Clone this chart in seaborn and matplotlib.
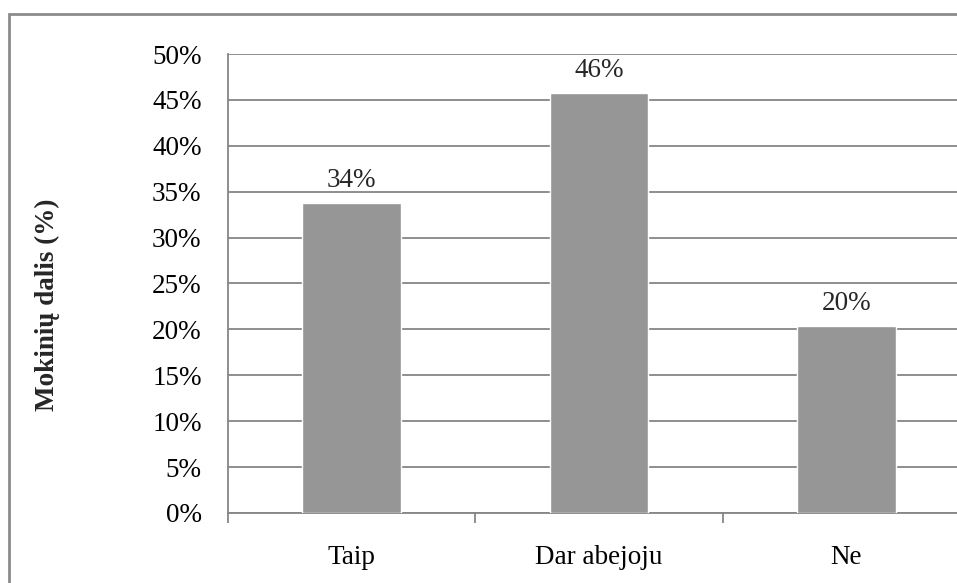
"""
Bar chart: share of pupils per answer (Taip / Dar abejoju / Ne)
"""
import matplotlib
matplotlib.use("Agg")
import pandas as pd
import seaborn as sns
from matplotlib import pyplot as plt
from matplotlib.patches import Rectangle
from matplotlib.ticker import PercentFormatter, MultipleLocator, FixedLocator

answers = ["Taip", "Dar abejoju", "Ne"]
shares = [0.338, 0.458, 0.204]
ylabel = "Mokinių dalis (%)"

BAR_COLOR = "#969696"
LINE_COLOR = "#868686"
FS = 19.5


def plot():
    sns.set_theme(style="white")
    plt.rcParams['font.family'] = ['Liberation Serif', 'DejaVu Serif']
    plt.rcParams['font.size'] = FS

    df = pd.DataFrame({"answer": answers, "share": shares})

    fig = plt.figure(figsize=(9.57, 5.83), dpi=100)
    W, H = 957, 583
    # plot area runs past the right edge, like the cropped original
    ax = fig.add_axes([228 / W, 1 - 513 / H, 742 / W, 459 / H])

    sns.barplot(data=df, x="answer", y="share", color=BAR_COLOR, width=0.4,
                saturation=1, ax=ax, zorder=3)

    ax.set_xlim(-0.5, 2.5)
    ax.set_ylim(0, 0.5)
    ax.yaxis.set_major_locator(MultipleLocator(0.05))
    ax.yaxis.set_major_formatter(PercentFormatter(1, decimals=0))
    ax.grid(axis='y', color=LINE_COLOR, linewidth=1.3, zorder=0)
    ax.set_axisbelow(True)

    # category separators as x ticks
    ax.xaxis.set_minor_locator(FixedLocator([-0.5, 0.5, 1.5, 2.5]))
    ax.tick_params(axis='x', which='minor', length=7, width=1.3, color=LINE_COLOR, bottom=True)
    ax.tick_params(axis='x', which='major', length=0, pad=23, labelsize=FS, colors='black')
    ax.tick_params(axis='y', length=0, pad=19, labelsize=FS, colors='black')

    ax.set_xlabel("")
    ax.set_ylabel("")
    fig.text(47 / W, 1 - 305 / H, ylabel, rotation=90, ha='center', va='center',
             fontsize=FS, fontweight='bold')

    for side in ['top', 'right']:
        ax.spines[side].set_visible(False)
    for side in ['left', 'bottom']:
        ax.spines[side].set_color(LINE_COLOR)
        ax.spines[side].set_linewidth(1.3)

    for i, v in enumerate(shares):
        ax.annotate(f"{round(v * 100):.0f}%", (i, v), xytext=(0, 7), textcoords='offset points',
                    ha='center', va='bottom', fontsize=FS)

    # outer chart border (cropped on the right and bottom)
    fig.patches.append(Rectangle((9 / W, -0.1), 1.2, 1 - 14 / H + 0.1, transform=fig.transFigure,
                                 fill=False, edgecolor="#8c8c8c", linewidth=2))

    fig.savefig("out.png", dpi=100)


if __name__ == "__main__":
    plot()
